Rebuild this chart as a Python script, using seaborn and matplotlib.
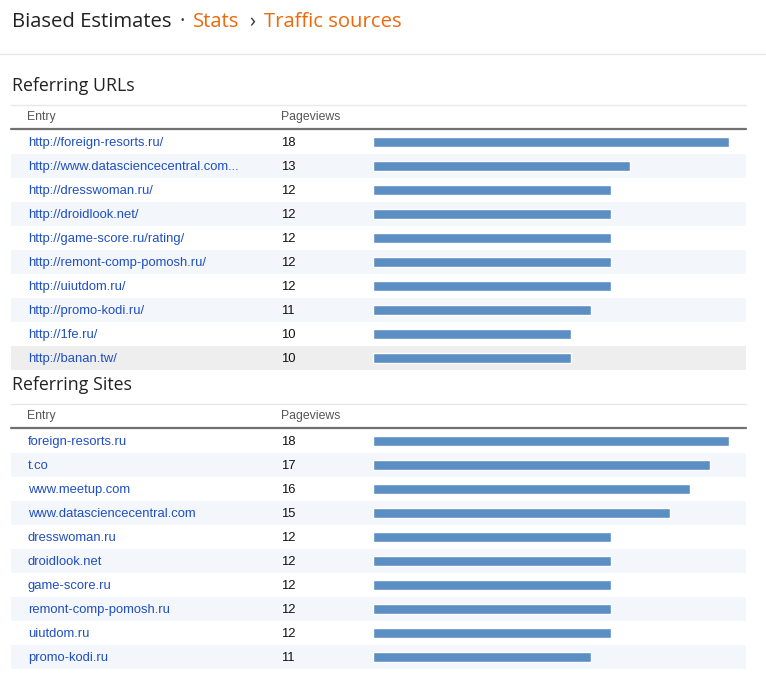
import matplotlib
matplotlib.use("Agg")
import matplotlib.pyplot as plt
from matplotlib.lines import Line2D
from matplotlib.text import Annotation
import matplotlib.transforms as mtransforms
import seaborn as sns
import pandas as pd

# data
urlEntries = [
    "http://foreign-resorts.ru/",
    "http://www.datasciencecentral.com...",
    "http://dresswoman.ru/",
    "http://droidlook.net/",
    "http://game-score.ru/rating/",
    "http://remont-comp-pomosh.ru/",
    "http://uiutdom.ru/",
    "http://promo-kodi.ru/",
    "http://1fe.ru/",
    "http://banan.tw/",
]
urlViews = [18, 13, 12, 12, 12, 12, 12, 11, 10, 10]

siteEntries = [
    "foreign-resorts.ru",
    "t.co",
    "www.meetup.com",
    "www.datasciencecentral.com",
    "dresswoman.ru",
    "droidlook.net",
    "game-score.ru",
    "remont-comp-pomosh.ru",
    "uiutdom.ru",
    "promo-kodi.ru",
]
siteViews = [18, 17, 16, 15, 12, 12, 12, 12, 12, 11]

W, H = 766, 674
BAR = "#5b8fc3"
LINK = "#1f4fc0"
ORANGE = "#ec6a0c"
SHADE = "#f3f6fa"
HOVER = "#eeeeee"
TABLE_FONT = ["Liberation Sans", "DejaVu Sans"]
HEAD_FONT = ["Open Sans", "DejaVu Sans"]

sns.set_theme(style="white")
plt.rcParams["font.family"] = TABLE_FONT

fig = plt.figure(figsize=(W / 100, H / 100), dpi=100)
fig.patch.set_facecolor("white")


def fx(px):
    return px / W


def fy(py):
    return 1 - py / H


def hline(x0, x1, py, color, lw):
    fig.add_artist(Line2D([fx(x0), fx(x1)], [fy(py), fy(py)],
                          transform=fig.transFigure, color=color, lw=lw))


# page title, pieces chained one after the other
prev = fig.text(fx(12), fy(27), "Biased Estimates", fontsize=14.6,
                family=HEAD_FONT, color="#222222", va="baseline")
parts = [("\u00b7", "#333333", 8), ("Stats", ORANGE, 8),
         ("\u203a", "#333333", 10), ("Traffic sources", ORANGE, 9)]
for txt, col, gap in parts:
    ann = Annotation(txt, xy=(1, 0), xycoords=prev, xytext=(gap * 0.72, 0),
                     textcoords="offset points", va="bottom",
                     fontsize=14.6, family=HEAD_FONT, color=col,
                     annotation_clip=False)
    fig.add_artist(ann)
    prev = ann
hline(0, W, 54, "#e6e6e6", 1)


def drawTable(top, title, entries, views):
    # section title and header
    fig.text(fx(12), fy(top - 39), title, fontsize=12.8, family=HEAD_FONT,
             color="#222222", va="baseline")
    hline(11, 746, top - 25, "#e8e8e8", 1)
    fig.text(fx(27), fy(top - 13), "Entry", fontsize=8.8, color="#555555",
             va="center")
    fig.text(fx(281), fy(top - 13), "Pageviews", fontsize=8.8,
             color="#555555", va="center")
    hline(11, 746, top - 1, "#6f7172", 1.6)

    ax = fig.add_axes([fx(11), fy(top + 240), fx(746) - fx(11), 240 / H])
    df = pd.DataFrame({"entry": entries, "views": views})
    for i in range(len(entries)):
        if i % 2 == 1:
            ax.axhspan(i - 0.5, i + 0.5, color=SHADE, lw=0, zorder=0)
    sns.barplot(data=df, x="views", y="entry", orient="h", color=BAR,
                width=10 / 24, saturation=1, ax=ax, zorder=2)
    perUnit = 19.8
    ax.set_xlim(-362 / perUnit, 373 / perUnit)
    ax.set_ylim(len(entries) - 0.5, -0.5)
    ax.set_axis_off()
    trans = mtransforms.blended_transform_factory(ax.transAxes, ax.transData)
    for i, (e, v) in enumerate(zip(entries, views)):
        ax.text((28 - 11) / 735, i + 0.04, e, transform=trans, fontsize=9.4,
                color=LINK, va="center")
        ax.text((281 - 11) / 735, i + 0.04, str(v), transform=trans,
                fontsize=9.4, color="#111111", va="center")
    return ax


axUrls = drawTable(130, "Referring URLs", urlEntries, urlViews)
axUrls.axhspan(8.5, 9.5, color=HOVER, lw=0, zorder=0)
drawTable(429, "Referring Sites", siteEntries, siteViews)

fig.savefig("out.png", dpi=100, facecolor="white")
